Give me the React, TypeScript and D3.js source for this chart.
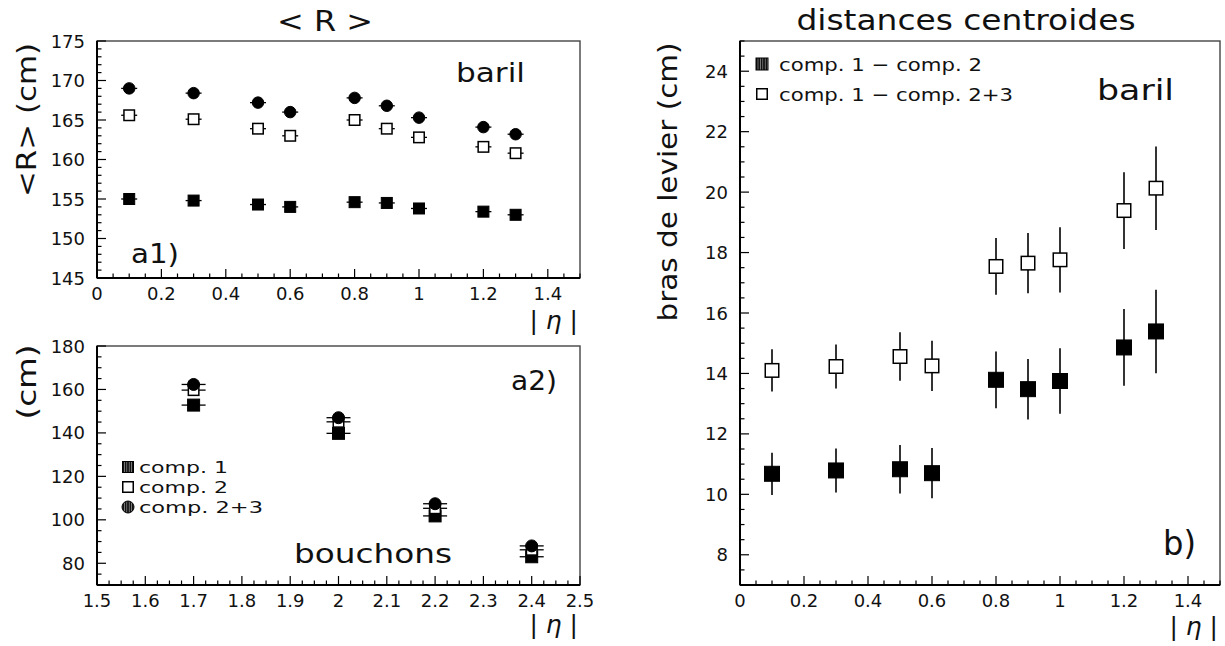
import React from "react";
import * as d3 from "d3";

// ---------- data ----------
const etaBarrel = [0.1, 0.3, 0.5, 0.6, 0.8, 0.9, 1.0, 1.2, 1.3];
const rComp1 = [155.0, 154.8, 154.3, 154.0, 154.6, 154.5, 153.8, 153.4, 153.0];
const rComp2 = [165.6, 165.1, 163.9, 163.0, 165.0, 163.9, 162.8, 161.6, 160.8];
const rComp23 = [169.0, 168.4, 167.2, 166.0, 167.8, 166.8, 165.3, 164.1, 163.2];

const etaEndcap = [1.7, 2.0, 2.2, 2.4];
const ecComp1 = [152.8, 139.8, 101.8, 83.0];
const ecComp2 = [159.7, 145.1, 105.3, 86.2];
const ecComp23 = [162.3, 147.0, 107.4, 88.0];

const lever12 = [10.68, 10.79, 10.83, 10.7, 13.79, 13.48, 13.75, 14.86, 15.39];
const lever123 = [14.1, 14.23, 14.56, 14.25, 17.54, 17.65, 17.76, 19.39, 20.13];
const leverErr = [0.7, 0.73, 0.8, 0.83, 0.94, 1.0, 1.08, 1.27, 1.38];

const barrelXTicks = [0, 0.2, 0.4, 0.6, 0.8, 1.0, 1.2, 1.4];
const barrelXLabels = ["0", "0.2", "0.4", "0.6", "0.8", "1", "1.2", "1.4"];
const endcapXTicks = [1.5, 1.6, 1.7, 1.8, 1.9, 2.0, 2.1, 2.2, 2.3, 2.4, 2.5];
const endcapXLabels = ["1.5", "1.6", "1.7", "1.8", "1.9", "2", "2.1", "2.2", "2.3", "2.4", "2.5"];
const rYTicks = [145, 150, 155, 160, 165, 170, 175];
const ecYTicks = [80, 100, 120, 140, 160, 180];
const leverYTicks = [8, 10, 12, 14, 16, 18, 20, 22, 24];

const FONT = "'DejaVu Sans', 'Liberation Sans', sans-serif";

// ---------- scales ----------
const xTop = d3.scaleLinear().domain([0, 1.5]).range([97, 580]);
const yTop = d3.scaleLinear().domain([145, 175]).range([278, 41]);
const xBot = d3.scaleLinear().domain([1.5, 2.5]).range([97, 580]);
const yBot = d3.scaleLinear().domain([70, 180]).range([585, 346]);
const xR = d3.scaleLinear().domain([0, 1.5]).range([740, 1220]);
const yR = d3.scaleLinear().domain([7, 25]).range([585, 41]);

function minorTicks(domain: number[], step: number, majors: number[]) {
  const out: number[] = [];
  const n = Math.round((domain[1] - domain[0]) / step);
  for (let i = 0; i <= n; i++) {
    const v = domain[0] + i * step;
    if (!majors.some((m) => Math.abs(m - v) < step / 10)) out.push(v);
  }
  return out;
}

type FrameProps = {
  xs: d3.ScaleLinear<number, number>;
  ys: d3.ScaleLinear<number, number>;
  xMaj: number[];
  xLab: string[];
  xMinStep: number;
  yMaj: number[];
  yMinStep: number;
};

function Frame({ xs, ys, xMaj, xLab, xMinStep, yMaj, yMinStep }: FrameProps) {
  const [x0, x1] = xs.range();
  const [yb, yt] = ys.range();
  const majLen = 9;
  const minLen = 4.5;
  const xMin = minorTicks(xs.domain(), xMinStep, xMaj);
  const yMin = minorTicks(ys.domain(), yMinStep, yMaj);
  return (
    <g>
      <rect x={x0} y={yt} width={x1 - x0} height={yb - yt} fill="none" stroke="#444" strokeWidth={1.4} />
      <line x1={x0} x2={x0} y1={yt} y2={yb} stroke="#000" strokeWidth={2} />
      <line x1={x0} x2={x1} y1={yb} y2={yb} stroke="#000" strokeWidth={2} />
      {xMin.map((v, i) => (
        <line key={"xm" + i} x1={xs(v)} x2={xs(v)} y1={yb} y2={yb - minLen} stroke="#000" strokeWidth={1.2} />
      ))}
      {xMaj.map((v, i) => (
        <g key={"xM" + i}>
          <line x1={xs(v)} x2={xs(v)} y1={yb} y2={yb - majLen} stroke="#000" strokeWidth={1.2} />
          <text x={xs(v)} y={yb + 22} textAnchor="middle" fontSize={18} fontFamily={FONT} fill="#111">
            {xLab[i]}
          </text>
        </g>
      ))}
      {yMin.map((v, i) => (
        <line key={"ym" + i} x1={x0} x2={x0 + minLen} y1={ys(v)} y2={ys(v)} stroke="#000" strokeWidth={1.2} />
      ))}
      {yMaj.map((v, i) => (
        <g key={"yM" + i}>
          <line x1={x0} x2={x0 + majLen} y1={ys(v)} y2={ys(v)} stroke="#000" strokeWidth={1.2} />
          <text x={x0 - 12} y={ys(v) + 6.5} textAnchor="end" fontSize={18} fontFamily={FONT} fill="#111">
            {String(v)}
          </text>
        </g>
      ))}
    </g>
  );
}

function FilledSq({ cx, cy, s, fill = "#000" }: { cx: number; cy: number; s: number; fill?: string }) {
  return <rect x={cx - s / 2} y={cy - s / 2} width={s} height={s} fill={fill} stroke="#000" strokeWidth={1} />;
}
function OpenSq({ cx, cy, s }: { cx: number; cy: number; s: number }) {
  return <rect x={cx - s / 2 + 0.75} y={cy - s / 2 + 0.75} width={s - 1.5} height={s - 1.5} fill="#fff" stroke="#000" strokeWidth={1.5} />;
}
function Dot({ cx, cy, d, fill = "#000" }: { cx: number; cy: number; d: number; fill?: string }) {
  return <circle cx={cx} cy={cy} r={d / 2} fill={fill} stroke="#000" strokeWidth={1} />;
}
function Whisker({ cx, cy, w }: { cx: number; cy: number; w: number }) {
  return <line x1={cx - w} x2={cx + w} y1={cy} y2={cy} stroke="#000" strokeWidth={1.3} />;
}

function Eta({ x, y }: { x: number; y: number }) {
  return (
    <text x={x} y={y} textAnchor="end" fontSize={25} fontFamily={FONT} fill="#111">
      {"| "}
      <tspan fontStyle="italic">η</tspan>
      {" |"}
    </text>
  );
}

export default function App() {
  const big = { fontFamily: FONT, lengthAdjust: "spacingAndGlyphs" as const, fill: "#111" };
  return (
    <svg
      width={1225}
      height={646}
      style={{ position: "absolute", left: 0, top: 0, background: "#fff" }}
      xmlns="http://www.w3.org/2000/svg"
    >
      <defs>
        <pattern id="vstripe" width={2.4} height={4} patternUnits="userSpaceOnUse">
          <rect width={2.4} height={4} fill="#111" />
          <rect x={1.7} width={0.6} height={4} fill="#aaa" />
        </pattern>
      </defs>
      <rect width={1225} height={646} fill="#fff" />

      {/* ---------- top-left: <R> barrel ---------- */}
      <text x={325} y={31} textAnchor="middle" fontSize={28} textLength={96} {...big}>
        {"< R >"}
      </text>
      <Frame xs={xTop} ys={yTop} xMaj={barrelXTicks} xLab={barrelXLabels} xMinStep={0.05} yMaj={rYTicks} yMinStep={1} />
      <text transform="translate(36,120) rotate(-90)" textAnchor="middle" fontSize={26} textLength={154} {...big}>
        {"<R> (cm)"}
      </text>
      <text x={456} y={82} fontSize={26} textLength={69} {...big}>
        baril
      </text>
      <text x={131} y={263} fontSize={26} textLength={48} {...big}>
        a1)
      </text>
      <Eta x={578} y={329} />
      {etaBarrel.map((e, i) => (
        <g key={"tw" + i}>
          <Whisker cx={xTop(e)} cy={yTop(rComp1[i])} w={8} />
          <Whisker cx={xTop(e)} cy={yTop(rComp2[i])} w={8} />
          <Whisker cx={xTop(e)} cy={yTop(rComp23[i])} w={8} />
        </g>
      ))}
      {etaBarrel.map((e, i) => (
        <g key={"tm" + i}>
          <FilledSq cx={xTop(e)} cy={yTop(rComp1[i])} s={11} />
          <OpenSq cx={xTop(e)} cy={yTop(rComp2[i])} s={12} />
          <Dot cx={xTop(e)} cy={yTop(rComp23[i])} d={11.5} />
        </g>
      ))}

      {/* ---------- bottom-left: endcap ---------- */}
      <Frame xs={xBot} ys={yBot} xMaj={endcapXTicks} xLab={endcapXLabels} xMinStep={0.025} yMaj={ecYTicks} yMinStep={5} />
      <text transform="translate(36,382) rotate(-90)" textAnchor="middle" fontSize={26} textLength={75} {...big}>
        (cm)
      </text>
      <text x={511} y={390} fontSize={26} textLength={46} {...big}>
        a2)
      </text>
      <text x={294} y={563} fontSize={27} textLength={158} {...big}>
        bouchons
      </text>
      <Eta x={578} y={633} />
      {etaEndcap.map((e, i) => (
        <g key={"bm" + i}>
          <Whisker cx={xBot(e)} cy={yBot(ecComp1[i])} w={12} />
          <FilledSq cx={xBot(e)} cy={yBot(ecComp1[i])} s={12} />
          <Whisker cx={xBot(e)} cy={yBot(ecComp2[i])} w={12} />
          <OpenSq cx={xBot(e)} cy={yBot(ecComp2[i])} s={12} />
          <Dot cx={xBot(e)} cy={yBot(ecComp23[i])} d={12} />
          <Whisker cx={xBot(e)} cy={yBot(ecComp23[i])} w={12} />
        </g>
      ))}
      {/* legend */}
      <FilledSq cx={128} cy={467} s={11} fill="url(#vstripe)" />
      <text x={139} y={473} fontSize={16} textLength={89} {...big}>
        comp. 1
      </text>
      <OpenSq cx={128} cy={487} s={12} />
      <text x={139} y={493} fontSize={16} textLength={89} {...big}>
        comp. 2
      </text>
      <Dot cx={128} cy={507} d={12} fill="url(#vstripe)" />
      <text x={139} y={513} fontSize={16} textLength={124} {...big}>
        comp. 2+3
      </text>

      {/* ---------- right: lever arm ---------- */}
      <text x={966} y={30} textAnchor="middle" fontSize={28} textLength={339} {...big}>
        distances centroides
      </text>
      <Frame xs={xR} ys={yR} xMaj={barrelXTicks} xLab={barrelXLabels} xMinStep={0.05} yMaj={leverYTicks} yMinStep={0.5} />
      <text transform="translate(677,182) rotate(-90)" textAnchor="middle" fontSize={26} textLength={279} {...big}>
        bras de levier (cm)
      </text>
      <text x={1097} y={100} fontSize={29} textLength={77} {...big}>
        baril
      </text>
      <text x={1163} y={555} fontSize={33} textLength={33} {...big}>
        b)
      </text>
      <Eta x={1218} y={635} />
      {etaBarrel.map((e, i) => (
        <g key={"rm" + i}>
          <line x1={xR(e)} x2={xR(e)} y1={yR(lever12[i] - leverErr[i])} y2={yR(lever12[i] + leverErr[i])} stroke="#000" strokeWidth={1.6} />
          <line x1={xR(e)} x2={xR(e)} y1={yR(lever123[i] - leverErr[i])} y2={yR(lever123[i] + leverErr[i])} stroke="#000" strokeWidth={1.6} />
          <FilledSq cx={xR(e)} cy={yR(lever12[i])} s={15} />
          <OpenSq cx={xR(e)} cy={yR(lever123[i])} s={15} />
        </g>
      ))}
      {/* legend */}
      <FilledSq cx={762} cy={64} s={12} fill="url(#vstripe)" />
      <text x={779} y={71} fontSize={18} textLength={203} {...big}>
        comp. 1 − comp. 2
      </text>
      <OpenSq cx={762} cy={94} s={12} />
      <text x={779} y={101} fontSize={18} textLength={234} {...big}>
        comp. 1 − comp. 2+3
      </text>
    </svg>
  );
}
